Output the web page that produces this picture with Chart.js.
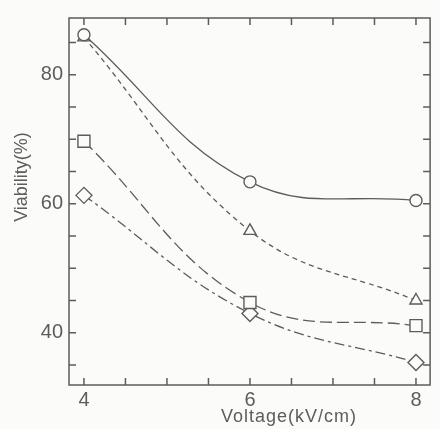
<!DOCTYPE html>
<html>
<head>
<meta charset="utf-8">
<script src="https://cdn.jsdelivr.net/npm/chart.js@4"></script>
<style>
  html, body { margin: 0; padding: 0; background: #fbfbf9; }
  #wrap { width: 440px; height: 429px; }
</style>
</head>
<body>
<div id="wrap"><canvas id="chart"></canvas></div>
<script>
// voltage values (kV/cm)
const voltages = [4, 6, 8];

// viability (%) for each series
const circleSeries = [86.2, 63.4, 60.5];
const triangleSeries = [85.8, 55.8, 45.0];
const squareSeries = [69.7, 44.7, 41.1];
const diamondSeries = [61.3, 43.0, 35.4];

const xLabels = [4, 6, 8];
const yLabels = [40, 60, 80];

const ink = '#5c5c5c';

function toPoints(ys) {
    return voltages.map((v, i) => ({ x: v, y: ys[i] }));
}

function series(ys, style, radius, dash) {
    return {
        data: toPoints(ys),
        borderColor: ink,
        borderWidth: 1.3,
        borderDash: dash,
        pointStyle: style,
        pointRadius: radius,
        pointBorderWidth: 1.4,
        pointBorderColor: ink,
        pointBackgroundColor: '#fbfbf9',
        tension: 0.4,
        fill: false
    };
}

// inward ticks on all four sides, plus frame and axis titles
const framePlugin = {
    id: 'frame',
    afterDraw(chart) {
        const ctx = chart.ctx;
        const a = chart.chartArea;
        const xs = chart.scales.x;
        const ys = chart.scales.y;
        ctx.save();
        ctx.strokeStyle = ink;
        ctx.lineWidth = 1.5;
        ctx.strokeRect(a.left, a.top, a.right - a.left, a.bottom - a.top);
        ctx.beginPath();
        xs.ticks.forEach(t => {
            const px = xs.getPixelForValue(t.value);
            ctx.moveTo(px, a.bottom); ctx.lineTo(px, a.bottom - 7);
            ctx.moveTo(px, a.top); ctx.lineTo(px, a.top + 7);
        });
        ys.ticks.forEach(t => {
            const py = ys.getPixelForValue(t.value);
            ctx.moveTo(a.left, py); ctx.lineTo(a.left + 7, py);
            ctx.moveTo(a.right, py); ctx.lineTo(a.right - 7, py);
        });
        ctx.stroke();

        // axis titles
        ctx.fillStyle = ink;
        ctx.font = '18px "Liberation Sans", Arial, sans-serif';
        ctx.textAlign = 'center';
        ctx.textBaseline = 'middle';
        ctx.letterSpacing = '1px';
        ctx.fillText('Voltage(kV/cm)', 289, 417);
        ctx.translate(22, 177);
        ctx.rotate(-Math.PI / 2);
        ctx.letterSpacing = '0px';
        ctx.fillText('Viability(%)', 0, 0);
        ctx.restore();
    }
};

const ctx = document.getElementById('chart').getContext('2d');
new Chart(ctx, {
    type: 'line',
    data: {
        datasets: [
            series(circleSeries, 'circle', 6, []),
            series(triangleSeries, 'triangle', 7, [5, 4]),
            series(squareSeries, 'rect', 8.5, [12, 5]),
            series(diamondSeries, 'rectRot', 8, [10, 4, 3, 4])
        ]
    },
    options: {
        responsive: true,
        maintainAspectRatio: false,
        animation: false,
        layout: { padding: { top: 11, right: 2, left: 0, bottom: 0 } },
        plugins: {
            legend: { display: false },
            tooltip: { enabled: false }
        },
        scales: {
            x: {
                type: 'linear',
                min: 3.82,
                max: 8.17,
                grid: { display: false, drawTicks: false },
                border: { display: false },
                ticks: {
                    stepSize: 0.5,
                    includeBounds: false,
                    autoSkip: false,
                    maxRotation: 0,
                    padding: 3,
                    color: ink,
                    font: { family: '"Liberation Sans", Arial, sans-serif', size: 20 },
                    callback: v => xLabels.includes(v) ? String(v) : ''
                },
                afterFit: s => { s.height = 44; }
            },
            y: {
                type: 'linear',
                min: 31.9,
                max: 88.8,
                grid: { display: false, drawTicks: false },
                border: { display: false },
                ticks: {
                    stepSize: 5,
                    includeBounds: false,
                    autoSkip: false,
                    padding: 6,
                    color: ink,
                    font: { family: '"Liberation Sans", Arial, sans-serif', size: 20 },
                    callback: v => yLabels.includes(v) ? String(v) : ''
                },
                afterFit: s => { s.width = 69; }
            }
        }
    },
    plugins: [framePlugin]
});
</script>
</body>
</html>
